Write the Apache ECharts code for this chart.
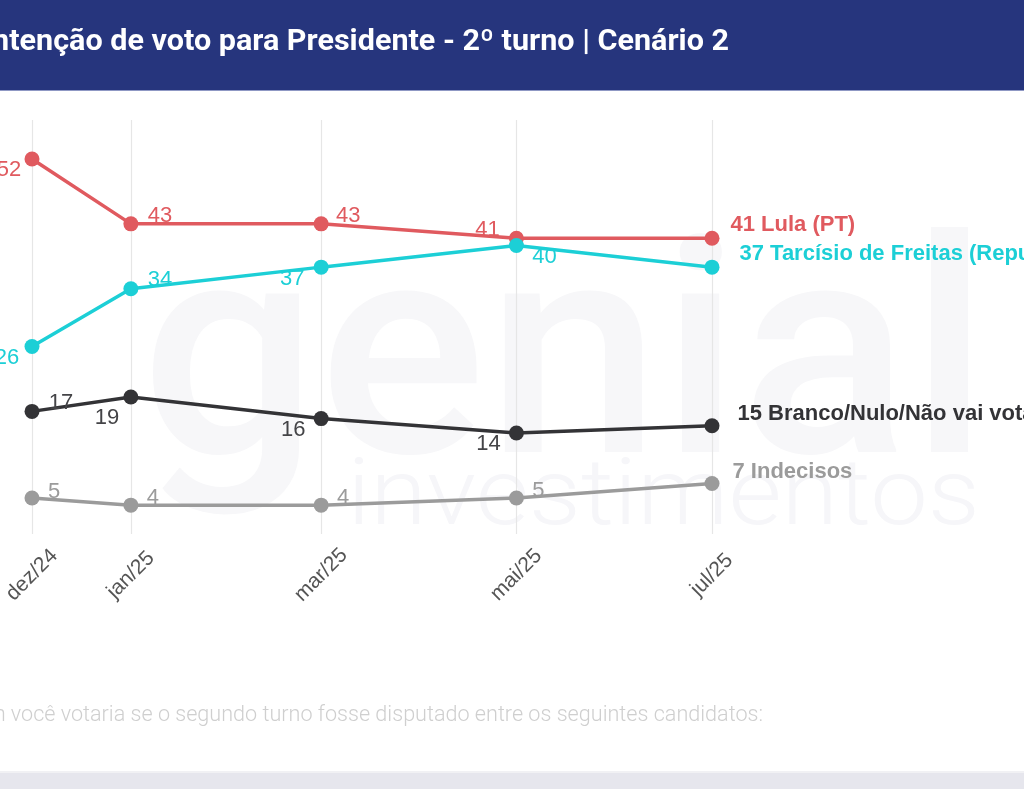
<!DOCTYPE html>
<html><head><meta charset="utf-8">
<style>html,body{margin:0;padding:0;background:#fff;overflow:hidden}#c{width:1024px;height:789px}</style>
<script src="https://cdn.jsdelivr.net/npm/echarts@6/dist/echarts.min.js"></script>
</head><body><div id="c"></div>
<script>
const monthLabels = ['dez/24','jan/25','mar/25','mai/25','jul/25'];
const dayOffsets = [0,31.7,92.7,155.3,218];
const lula = [52,43,43,41,41];
const tarcisio = [26,34,37,40,37];
const branco = [17,19,16,14,15];
const indecisos = [5,4,4,5,7];
const seriesNames = ['41 Lula (PT)','37 Tarcísio de Freitas (Republicanos)','15 Branco/Nulo/Não vai votar','7 Indecisos'];
const titleText = 'Intenção de voto para Presidente - 2º turno | Cenário 2';
const noteText = 'Em quem você votaria se o segundo turno fosse disputado entre os seguintes candidatos:';

// label offsets from each point, [dx, dy]; last point carries the series name
const styles = [
  {color:'#e05a5f', off:[[-23,11],[29,-8],[27,-8],[-29,-8],[0,0]], end:[11,-13]},
  {color:'#1ccfd6', off:[[-25,11],[29,-9],[-29,12],[28,11],[0,0]], end:[20,-13]},
  {color:'#333336', off:[[29,-8],[-24,21],[-28,11],[-28,11],[0,0]], end:[18,-12]},
  {color:'#9b9b9b', off:[[22,-6],[22,-7],[22,-7],[22,-7],[0,0]], end:[13,-12]}
];
const values = [lula,tarcisio,branco,indecisos];

const series = values.map((vals,i)=>({
  type:'line', name:seriesNames[i], z:3,
  symbol:'circle', symbolSize:15, showSymbol:true,
  lineStyle:{color:styles[i].color,width:3.5},
  itemStyle:{color:styles[i].color},
  data:vals.map((v,j)=>{
    const last=j===vals.length-1;
    return {
      value:[dayOffsets[j],v],
      label:last?{
        show:true,position:'right',distance:0,
        offset:[styles[i].end[0],styles[i].end[1]],
        formatter:seriesNames[i],fontSize:22,fontWeight:'bold',
        fontFamily:'Liberation Sans',color:styles[i].color
      }:{
        show:true,position:'inside',
        offset:styles[i].off[j],
        formatter:String(v),fontSize:22,fontFamily:'Liberation Sans',color:i===2?'#444447':styles[i].color
      }
    };
  })
}));

const chart = echarts.init(document.getElementById('c'),null,{renderer:'canvas'});
chart.setOption({
  animation:false,
  backgroundColor:'#ffffff',
  grid:{left:32,right:312,top:120,bottom:255,outerBoundsMode:'none'},
  xAxis:{type:'value',min:dayOffsets[0],max:dayOffsets[dayOffsets.length-1],
    axisLine:{show:false},
    axisTick:{show:false,customValues:dayOffsets},
    splitLine:{show:true,lineStyle:{color:'#e6e6e6',width:1.2}},
    axisLabel:{customValues:dayOffsets,rotate:45,margin:41,fontSize:21,fontFamily:'Liberation Sans',color:'#555',
      align:'center',verticalAlign:'middle',
      showMinLabel:true,showMaxLabel:true,
      formatter:v=>monthLabels[dayOffsets.indexOf(v)]||''}
  },
  yAxis:{type:'value',min:0,max:57.4,show:false,splitLine:{show:false}},
  series,
  graphic:[
    {type:'rect',z:0,shape:{x:0,y:0,width:1024,height:90},style:{fill:'#26357d'}},
    {type:'rect',z:0,shape:{x:0,y:90,width:1024,height:1},style:{fill:'#8f98c4'}},
    {type:'text',z:1,x:729,y:43,scaleX:1.053,style:{x:0,y:0,text:titleText,align:'right',verticalAlign:'middle',fill:'#ffffff',font:'bold 29px Roboto'}},
    {type:'text',z:0,x:565,y:377,scaleX:1.045,style:{x:0,y:0,text:'genial',align:'center',verticalAlign:'middle',fill:'#f7f7f9',font:'500 300px Roboto'}},
    {type:'text',z:0,x:980,y:501,scaleX:1.118,style:{x:0,y:0,text:'investimentos',align:'right',verticalAlign:'middle',fill:'#f6f6f9',font:'300 92px Roboto'}},
    {type:'text',z:1,style:{x:763,y:716,text:noteText,align:'right',verticalAlign:'middle',fill:'#cfcfcf',font:'300 21.6px Roboto'}},
    {type:'rect',z:0,shape:{x:0,y:773,width:1024,height:16},style:{fill:'#e6e6ed'}},
    {type:'rect',z:0,shape:{x:0,y:771,width:1024,height:2},style:{fill:'#f1f1f4'}}
  ]
});
</script></body></html>
